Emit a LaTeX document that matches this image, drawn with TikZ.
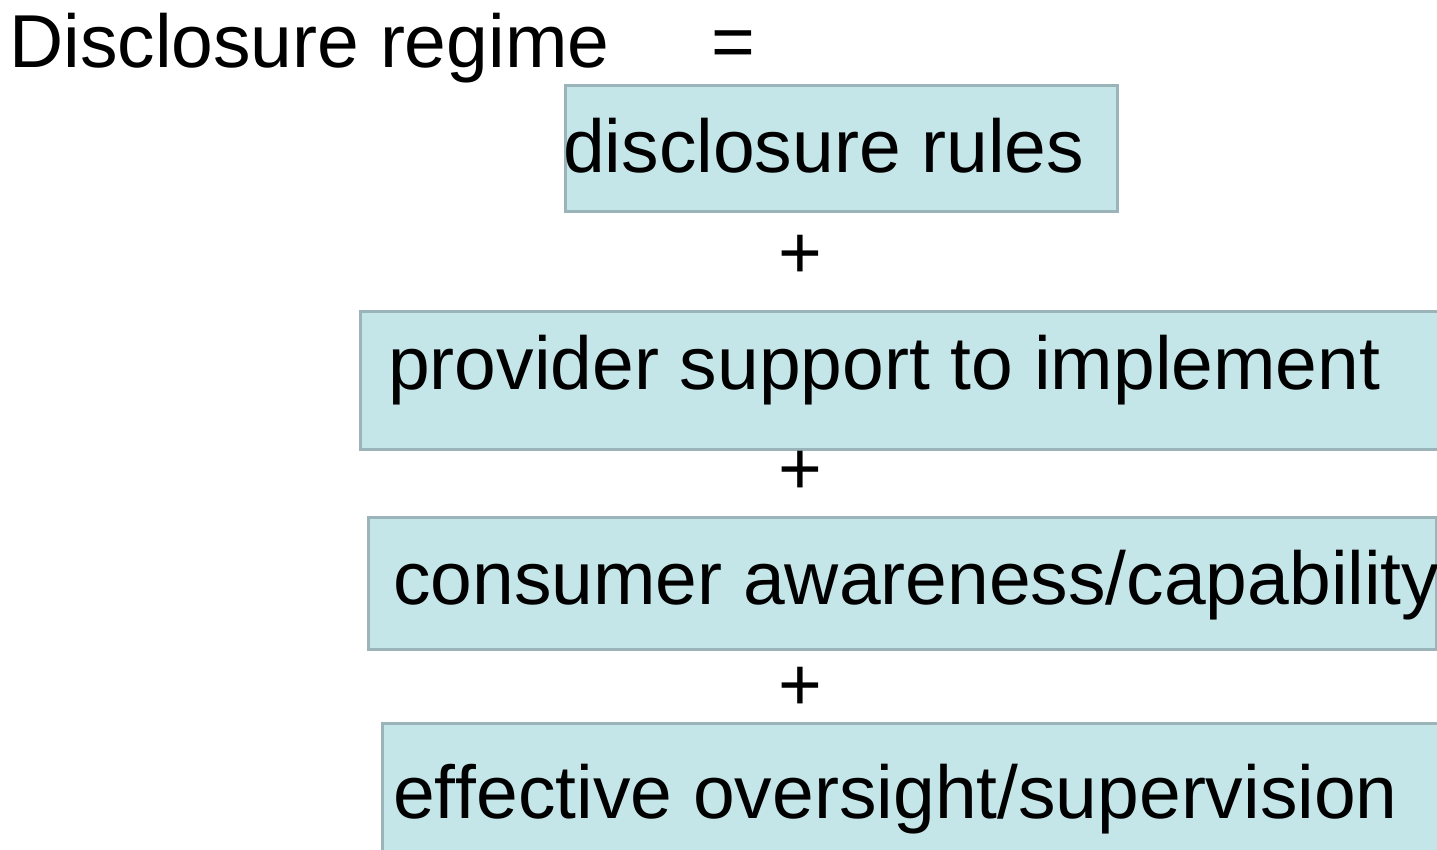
\documentclass[tikz,border=0pt]{standalone}
\usepackage{fontspec}
\setmainfont[Ligatures={NoCommon,NoRequired,NoContextual}]{Liberation Sans}
\definecolor{boxfill}{HTML}{C5E6E9}
\definecolor{boxline}{HTML}{9AB4B9}
\tikzset{
  box/.style={draw=boxline, fill=boxfill, line width=3pt, rectangle, inner sep=0pt, anchor=north west},
  label/.style={anchor=base west, inner sep=0pt, font=\fontsize{75}{80}\selectfont},
  op/.style={anchor=base, inner sep=0pt, font=\fontsize{75}{80}\selectfont}
}
\begin{document}
\begin{tikzpicture}[x=1pt,y=1pt]
  \clip (0,0) rectangle (1437,-850);
  \fill[white] (0,0) rectangle (1437,-850);

  % heading
  \node[label] (title) at (9,-68) {Disclosure regime};
  \node[label] (eq) at (711,-68) {=};

  % component boxes
  \node[box, minimum width=552pt, minimum height=126pt] (b1) at (564,-84) {};
  \node[box, minimum width=1100pt, minimum height=138pt] (b2) at (359,-310) {};
  \node[box, minimum width=1068pt, minimum height=132pt] (b3) at (367,-516) {};
  \node[box, minimum width=1100pt, minimum height=160pt] (b4) at (381,-722) {};

  % box texts
  \node[label] (t1) at (563,-173) {disclosure rules};
  \node[label] (t2) at (388,-389) {provider support to implement};
  \node[label] (t3) at (393,-604) {consumer awareness/capability};
  \node[label] (t4) at (393,-818) {ef\kern0pt f\kern0pt ective oversight/supervision};

  % plus signs between boxes
  \node[op] (p1) at (800,-279) {+};
  \node[op] (p2) at (800,-494) {+};
  \node[op] (p3) at (800,-710) {+};
\end{tikzpicture}
\end{document}
